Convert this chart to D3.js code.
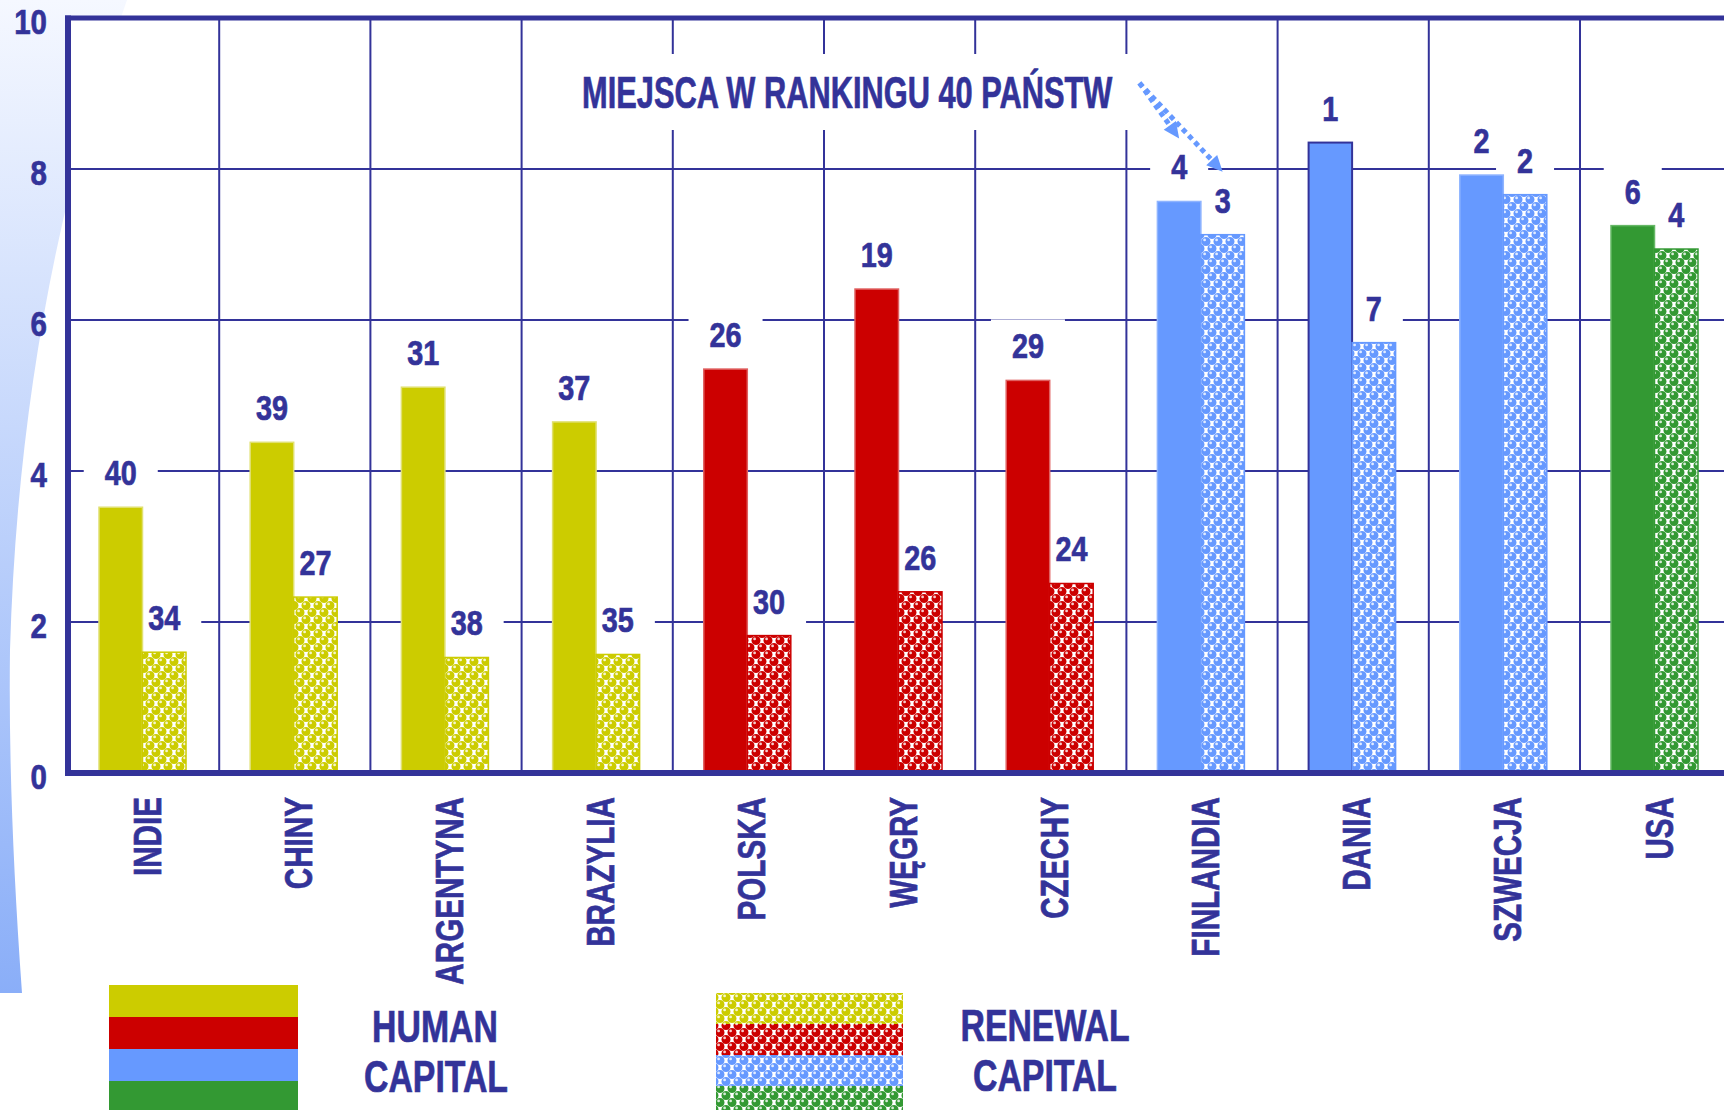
<!DOCTYPE html>
<html>
<head>
<meta charset="utf-8">
<script src="https://cdn.jsdelivr.net/npm/d3@7"></script>
<style>
  body { margin: 0; background: #fff; }
  text { font-family: "Liberation Sans", Arial, sans-serif; font-weight: bold; fill: #333399; stroke: #333399; stroke-width: 0.7; }
</style>
</head>
<body>
<svg id="chart" width="1724" height="1110"></svg>
<script>
// data
var countries = ["INDIE", "CHINY", "ARGENTYNA", "BRAZYLIA", "POLSKA", "WĘGRY", "CZECHY", "FINLANDIA", "DANIA", "SZWECJA", "USA"];
var regions = ["emerging", "emerging", "emerging", "emerging", "cee", "cee", "cee", "nordic", "nordic", "nordic", "usa"];
var humanCapital = [3.52, 4.38, 5.11, 4.65, 5.35, 6.41, 5.20, 7.57, 8.35, 7.92, 7.25];
var renewalCapital = [1.60, 2.33, 1.53, 1.57, 1.82, 2.40, 2.51, 7.13, 5.70, 7.66, 6.94];
var humanRank = [40, 39, 31, 37, 26, 19, 29, 4, 1, 2, 6];
var renewalRank = [34, 27, 38, 35, 30, 26, 24, 3, 7, 2, 4];
var yTicks = [0, 2, 4, 6, 8, 10];
var legendRegions = ["emerging", "cee", "nordic", "usa"];
var note = "MIEJSCA W RANKINGU 40 PAŃSTW";

var colors = { emerging: "#cccc00", cee: "#cc0000", nordic: "#6699ff", usa: "#339933" };
var edge = { emerging: "#e0e070", cee: "#e06060", nordic: "#8fb4ff", usa: "#66b866" };
var ink = "#333399";
var outlinedBar = "DANIA";   // that one has a dark outline on the slide

var svg = d3.select("#chart");
var defs = svg.append("defs");

// left slide decoration
var grad = defs.append("linearGradient").attr("id", "deco").attr("x1", 0).attr("y1", 0).attr("x2", 0).attr("y2", 1);
grad.append("stop").attr("offset", "0%").attr("stop-color", "#f5f8ff");
grad.append("stop").attr("offset", "100%").attr("stop-color", "#8aaef8");
svg.append("path")
  .attr("d", "M0,0 H127 Q20,300 10,650 Q8,800 22,993 H0 Z")
  .attr("fill", "url(#deco)");

// bubble patterns for renewal capital
var tileW = 12, tileH = 14;
var centres = [];
[[6, 3.5], [0, 10.5]].forEach(function(c) {
  [-tileW, 0, tileW].forEach(function(dx) {
    [-tileH, 0, tileH].forEach(function(dy) { centres.push([c[0] + dx, c[1] + dy]); });
  });
});
legendRegions.forEach(function(r) {
  var p = defs.append("pattern").attr("id", "pat-" + r)
    .attr("patternUnits", "userSpaceOnUse").attr("width", tileW).attr("height", tileH);
  p.append("rect").attr("width", tileW).attr("height", tileH).attr("fill", "#fff");
  centres.forEach(function(c) {
    p.append("circle").attr("cx", c[0]).attr("cy", c[1]).attr("r", 4.5).attr("fill", colors[r]);
    p.append("circle").attr("cx", c[0] - 1.4).attr("cy", c[1] - 1.6).attr("r", 1.4).attr("fill", "#fff").attr("opacity", 0.8);
  });
});

var x = d3.scaleBand().domain(countries).range([68, 68 + 151.2 * countries.length]);
var xs = d3.scaleBand().domain(["human", "renewal"]).range([31, 118]);
var y = d3.scaleLinear().domain([0, 10]).range([773, 18]);

var rows = countries.map(function(c, i) {
  return { country: c, region: regions[i],
    bars: [
      { country: c, region: regions[i], key: "human", value: humanCapital[i], rank: humanRank[i] },
      { country: c, region: regions[i], key: "renewal", value: renewalCapital[i], rank: renewalRank[i] }
    ] };
});
var allBars = [].concat.apply([], rows.map(function(r) { return r.bars; }));

svg.append("rect").attr("x", 68).attr("y", 18).attr("width", x.range()[1] - 68).attr("height", 755).attr("fill", "#fff");

// grid
var grid = svg.append("g");
grid.selectAll(".h").data(yTicks.filter(function(t) { return t > 0 && t < 10; }))
  .join("line").attr("x1", 68).attr("x2", 1724)
  .attr("y1", function(d) { return y(d); }).attr("y2", function(d) { return y(d); })
  .attr("stroke", ink).attr("stroke-width", 2);
grid.selectAll(".v").data(countries.slice(1))
  .join("line").attr("x1", function(d) { return x(d); }).attr("x2", function(d) { return x(d); })
  .attr("y1", y(10)).attr("y2", y(0))
  .attr("stroke", ink).attr("stroke-width", 2);

var gBoxes = svg.append("g");
var gBars = svg.append("g");
var gFrame = svg.append("g");
var gText = svg.append("g");

function barX(d) { return x(d.country) + xs(d.key); }

gBars.selectAll("rect").data(allBars).join("rect")
  .attr("x", barX)
  .attr("width", xs.bandwidth())
  .attr("y", function(d) { return y(d.value); })
  .attr("height", function(d) { return y(0) - y(d.value); })
  .attr("fill", function(d) { return d.key === "human" ? colors[d.region] : "url(#pat-" + d.region + ")"; })
  .attr("stroke", function(d) {
    if (d.key === "renewal") return colors[d.region];
    return d.country === outlinedBar ? ink : edge[d.region];
  })
  .attr("stroke-width", function(d) { return d.key === "human" && d.country === outlinedBar ? 2 : 1.5; });

// frame
gFrame.append("line").attr("x1", 65).attr("x2", 1724).attr("y1", y(10)).attr("y2", y(10)).attr("stroke", ink).attr("stroke-width", 5);
gFrame.append("line").attr("x1", 68).attr("x2", 68).attr("y1", y(10) - 2.5).attr("y2", y(0) + 3).attr("stroke", ink).attr("stroke-width", 6);
gFrame.append("line").attr("x1", 65).attr("x2", 1724).attr("y1", y(0)).attr("y2", y(0)).attr("stroke", ink).attr("stroke-width", 6);

// condensed bold text: Arial-like face squeezed horizontally
function place(sel, size, sx, rot) {
  sel.attr("font-size", size).attr("x", 0).attr("y", 0)
    .attr("transform", function(d) {
      var p = d.pos;
      return "translate(" + p[0] + "," + p[1] + ")" + (rot ? " rotate(" + rot + ")" : "") + " scale(" + sx + ",1)";
    });
  return sel;
}

// rank labels with white boxes that cut the grid
var labelGap = 35;
var rankSx = 0.8;
var ranks = gText.selectAll(".rank").data(allBars.map(function(d) {
    return { text: d.rank, pos: [barX(d) + xs.bandwidth() / 2, y(d.value) - labelGap] };
  }))
  .join("text").attr("class", "rank")
  .attr("text-anchor", "middle").attr("dy", "0.36em")
  .text(function(d) { return d.text; });
place(ranks, 36, rankSx);
ranks.each(function(d) {
  var w = this.getBBox().width * rankSx + 42;
  gBoxes.append("rect").attr("x", d.pos[0] - w / 2).attr("y", d.pos[1] - 26)
    .attr("width", w).attr("height", 52).attr("fill", "#fff");
});

// y tick labels
place(gText.selectAll(".yt").data(yTicks.map(function(t) { return { text: t, pos: [47, y(t) + 3] }; }))
  .join("text").attr("class", "yt").attr("text-anchor", "end").attr("dy", "0.36em")
  .text(function(d) { return d.text; }), 36, 0.82);

// country labels, vertical
place(gText.selectAll(".xl").data(countries.map(function(c) { return { text: c, pos: [x(c) + x.bandwidth() / 2 + 3, 797] }; }))
  .join("text").attr("class", "xl").attr("text-anchor", "end").attr("dy", "0.36em")
  .text(function(d) { return d.text; }), 39, 0.76, -90);

// annotation + dotted arrows towards Finland's labels
var noteRight = x("FINLANDIA") - 14, noteY = 92, noteSx = 0.7;
var noteText = place(gText.selectAll(".note").data([{ text: note, pos: [noteRight, noteY] }])
  .join("text").attr("class", "note").attr("text-anchor", "end").attr("dy", "0.36em")
  .text(function(d) { return d.text; }), 44, noteSx);
var nw = noteText.node().getBBox().width * noteSx;
gBoxes.append("rect").attr("x", noteRight - nw - 20).attr("y", noteY - 38).attr("width", nw + 40).attr("height", 76).attr("fill", "#fff");

var start = [noteRight + 27, noteY - 9];
var fin = allBars.filter(function(d) { return d.country === "FINLANDIA"; });
fin.forEach(function(d) {
  var tip = [barX(d) + xs.bandwidth() / 2, y(d.value) - labelGap - 28];
  var ang = Math.atan2(tip[1] - start[1], tip[0] - start[0]);
  var back = [tip[0] - 16 * Math.cos(ang), tip[1] - 16 * Math.sin(ang)];
  gText.append("line").attr("x1", start[0]).attr("y1", start[1]).attr("x2", back[0]).attr("y2", back[1])
    .attr("stroke", "#6699ff").attr("stroke-width", 5).attr("stroke-dasharray", "5,4");
  var nx = -Math.sin(ang) * 7.5, ny = Math.cos(ang) * 7.5;
  gText.append("path")
    .attr("d", "M" + tip[0] + "," + tip[1] + " L" + (back[0] + nx) + "," + (back[1] + ny) + " L" + (back[0] - nx) + "," + (back[1] - ny) + " Z")
    .attr("fill", "#6699ff");
});

// legend
var legend = svg.append("g");
function stripes(x0, y0, w, h, fillFn) {
  legend.selectAll(null).data(legendRegions).join("rect")
    .attr("x", x0).attr("width", w)
    .attr("y", function(d, i) { return y0 + i * h; }).attr("height", h)
    .attr("fill", fillFn);
}
stripes(109, 985, 189, 32, function(d) { return colors[d]; });
stripes(716, 993, 187, 31, function(d) { return "url(#pat-" + d + ")"; });

place(legend.selectAll(".lg").data([
    { text: "HUMAN", pos: [435, 1042] }, { text: "CAPITAL", pos: [436, 1092] },
    { text: "RENEWAL", pos: [1045, 1041] }, { text: "CAPITAL", pos: [1045, 1091] }
  ]).join("text").attr("class", "lg").attr("text-anchor", "middle")
  .text(function(d) { return d.text; }), 44.5, 0.76);
</script>
</body>
</html>
